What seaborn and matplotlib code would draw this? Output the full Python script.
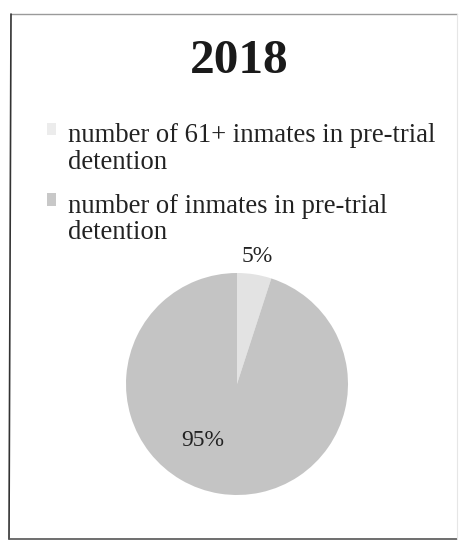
import matplotlib
matplotlib.use("Agg")
import matplotlib.pyplot as plt
import matplotlib.patches as mpatches
from matplotlib.legend_handler import HandlerPatch
import numpy as np
import seaborn as sns

# Pre-trial detention shares, 2018
title = "2018"
categories = [
    "number of 61+ inmates in pre-trial\ndetention",
    "number of inmates in pre-trial\ndetention",
]
shares = [5, 95]
colors = ["#e3e3e3", "#c4c4c4"]
legend_colors = ["#ececec", "#c8c8c8"]

sns.set_theme(style="white")
plt.rcParams["font.family"] = ["Liberation Serif", "DejaVu Serif"]

W, H, DPI = 459, 544, 100
fig = plt.figure(figsize=(W / DPI, H / DPI), dpi=DPI)
fig.patch.set_facecolor("white")

# square axes holding the pie: centre (237, 384) px, radius 111 px
cx, cy, r = 237, 384, 111
ax = fig.add_axes([(cx - r) / W, (H - cy - r) / H, 2 * r / W, 2 * r / H])

wedges, texts, autotexts = ax.pie(
    shares,
    colors=colors,
    startangle=90,
    counterclock=False,
    autopct=lambda p: f"{p:.0f}%",
    pctdistance=1.16,
    textprops=dict(fontsize=17, color="#222222"),
    wedgeprops=dict(linewidth=0),
)
ax.set_xlim(-1, 1)
ax.set_ylim(-1, 1)
ax.set_aspect("equal")
ax.axis("off")

# the large share's label sits inside the slice, lower left
ang = np.deg2rad(240)
autotexts[1].set_position((0.61 * np.cos(ang), 0.59 * np.sin(ang)))

fig.text(239 / W, 1 - 61 / H, title, ha="center", va="center",
         fontsize=35.5, fontweight="bold", color="#1a1a1a")


# legend swatch aligned with the first line of its (two-line) label
def top_square(legend, orig_handle, xdescent, ydescent, width, height, fontsize):
    return mpatches.Rectangle((-xdescent, -ydescent + 0.74 * fontsize), width, height)


handles = [mpatches.Patch(facecolor=c, edgecolor="none") for c in legend_colors]
leg = fig.legend(
    handles, categories,
    loc="upper left",
    bbox_to_anchor=(47 / W, 1 - 123 / H),
    frameon=False,
    fontsize=19.2,
    handlelength=0.35,
    handleheight=0.35,
    handletextpad=0.45,
    labelspacing=0.72,
    borderpad=0,
    borderaxespad=0,
    handler_map={mpatches.Patch: HandlerPatch(patch_func=top_square)},
)
for t in leg.get_texts():
    t.set_linespacing(1.08)
    t.set_color("#222222")

# outer frame of the chart area
def px_line(x0, y0, x1, y1, color, lw):
    fig.add_artist(plt.Line2D([x0 / W, x1 / W], [1 - y0 / H, 1 - y1 / H],
                              transform=fig.transFigure, color=color, lw=lw))

px_line(11, 14, 457, 14, "#9a9a9a", 1.0)
px_line(11, 14, 9, 539, "#333333", 1.2)
px_line(9, 539, 457, 539, "#555555", 1.2)
px_line(457, 14, 457, 539, "#e6e6e6", 0.8)

fig.savefig("out.png", dpi=DPI, facecolor="white")
